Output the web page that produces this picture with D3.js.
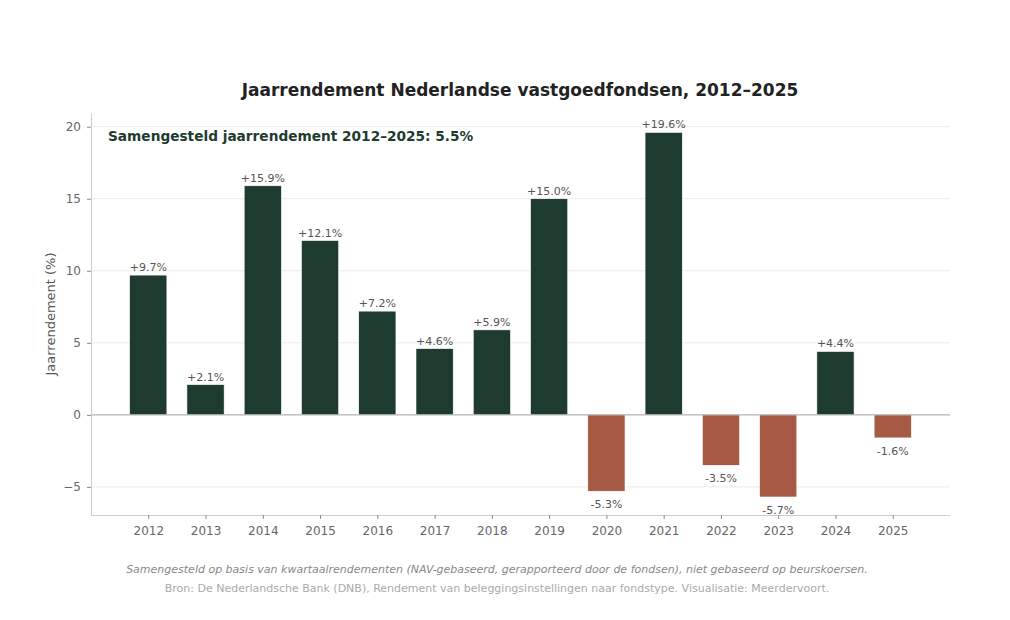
<!DOCTYPE html>
<html>
<head>
<meta charset="utf-8">
<script src="https://cdn.jsdelivr.net/npm/d3@7"></script>
<style>
  body { margin: 0; background: #fff; font-family: "DejaVu Sans", sans-serif; }
  svg { display: block; }
  .tick text { fill: #666; font-size: 12px; font-family: "DejaVu Sans", sans-serif; }
</style>
</head>
<body>
<svg id="chart" width="1010" height="620"></svg>
<script>
// data
const years = ['2012','2013','2014','2015','2016','2017','2018','2019','2020','2021','2022','2023','2024','2025'];
const returns = [9.7, 2.1, 15.9, 12.1, 7.2, 4.6, 5.9, 15.0, -5.3, 19.6, -3.5, -5.7, 4.4, -1.6];
const yTicks = [-5, 0, 5, 10, 15, 20];

const svg = d3.select('#chart');
const margin = {top: 113, right: 60, bottom: 105, left: 91};
const W = 1010, H = 620;
const width = W - margin.left - margin.right;
const height = H - margin.top - margin.bottom;

const g = svg.append('g').attr('transform', `translate(${margin.left},${margin.top})`);

// positional scale: categories at 0..13, limits -1..14
const xi = d3.scaleLinear().domain([-1, years.length]).range([0, width]);
const x = d => xi(years.indexOf(d));
const barW = (xi(1) - xi(0)) * 0.65;

const y = d3.scaleLinear().domain([-6.95, 20.95]).range([height, 0]);

// grid
g.append('g').selectAll('line').data(yTicks).join('line')
  .attr('x1', 0).attr('x2', width)
  .attr('y1', d => y(d)).attr('y2', d => y(d))
  .attr('stroke', '#ebebeb').attr('stroke-width', 1);

// bars
g.selectAll('.bar').data(years).join('rect')
  .attr('class', 'bar')
  .attr('x', d => x(d) - barW / 2)
  .attr('width', barW)
  .attr('y', (d, i) => y(Math.max(0, returns[i])))
  .attr('height', (d, i) => Math.abs(y(returns[i]) - y(0)))
  .attr('fill', (d, i) => returns[i] >= 0 ? '#1e3b30' : '#a65943')
  .attr('stroke', '#fff').attr('stroke-width', 0.6);

// zero line
g.append('line')
  .attr('x1', 0).attr('x2', width)
  .attr('y1', y(0)).attr('y2', y(0))
  .attr('stroke', '#aaa').attr('stroke-width', 1);

// value labels
g.selectAll('.label').data(years).join('text')
  .attr('class', 'label')
  .attr('x', d => x(d))
  .attr('y', (d, i) => returns[i] >= 0 ? y(returns[i]) - 4 : y(returns[i]) + 17)
  .attr('text-anchor', 'middle')
  .attr('font-size', 11).attr('fill', '#555')
  .text((d, i) => (returns[i] >= 0 ? '+' : '') + returns[i].toFixed(1) + '%');

// axes
const yAxis = g.append('g')
  .call(d3.axisLeft(y).tickValues(yTicks).tickSize(4).tickSizeOuter(0).tickPadding(6).tickFormat(d => d < 0 ? '\u2212' + Math.abs(d) : d));
const xAxis = g.append('g')
  .attr('transform', `translate(0,${height})`)
  .call(d3.axisBottom(xi).tickValues(d3.range(years.length)).tickSize(4).tickSizeOuter(0).tickPadding(7).tickFormat(i => years[i]));
[yAxis, xAxis].forEach(a => {
  a.select('.domain').attr('stroke', '#ccc');
  a.selectAll('.tick line').attr('stroke', '#888');
});

// y label
svg.append('text')
  .attr('transform', `translate(55,${margin.top + y(7)}) rotate(-90)`)
  .attr('text-anchor', 'middle')
  .attr('font-size', 13).attr('fill', '#555')
  .text('Jaarrendement (%)');

// title
svg.append('text')
  .attr('x', 520).attr('y', 96)
  .attr('text-anchor', 'middle')
  .attr('font-size', 17).attr('font-weight', 'bold').attr('fill', '#222')
  .text('Jaarrendement Nederlandse vastgoedfondsen, 2012\u20132025');

// annotation
svg.append('text')
  .attr('x', 108).attr('y', 141)
  .attr('font-size', 13.7).attr('font-weight', 'bold').attr('fill', '#1e3b30')
  .text('Samengesteld jaarrendement 2012\u20132025: 5.5%');

// footer
svg.append('text')
  .attr('x', 497).attr('y', 573)
  .attr('text-anchor', 'middle')
  .attr('font-size', 11).attr('font-style', 'italic').attr('fill', '#888')
  .text('Samengesteld op basis van kwartaalrendementen (NAV-gebaseerd, gerapporteerd door de fondsen), niet gebaseerd op beurskoersen.');
svg.append('text')
  .attr('x', 497).attr('y', 592)
  .attr('text-anchor', 'middle')
  .attr('font-size', 11).attr('fill', '#aaa')
  .text('Bron: De Nederlandsche Bank (DNB), Rendement van beleggingsinstellingen naar fondstype. Visualisatie: Meerdervoort.');
</script>
</body>
</html>
